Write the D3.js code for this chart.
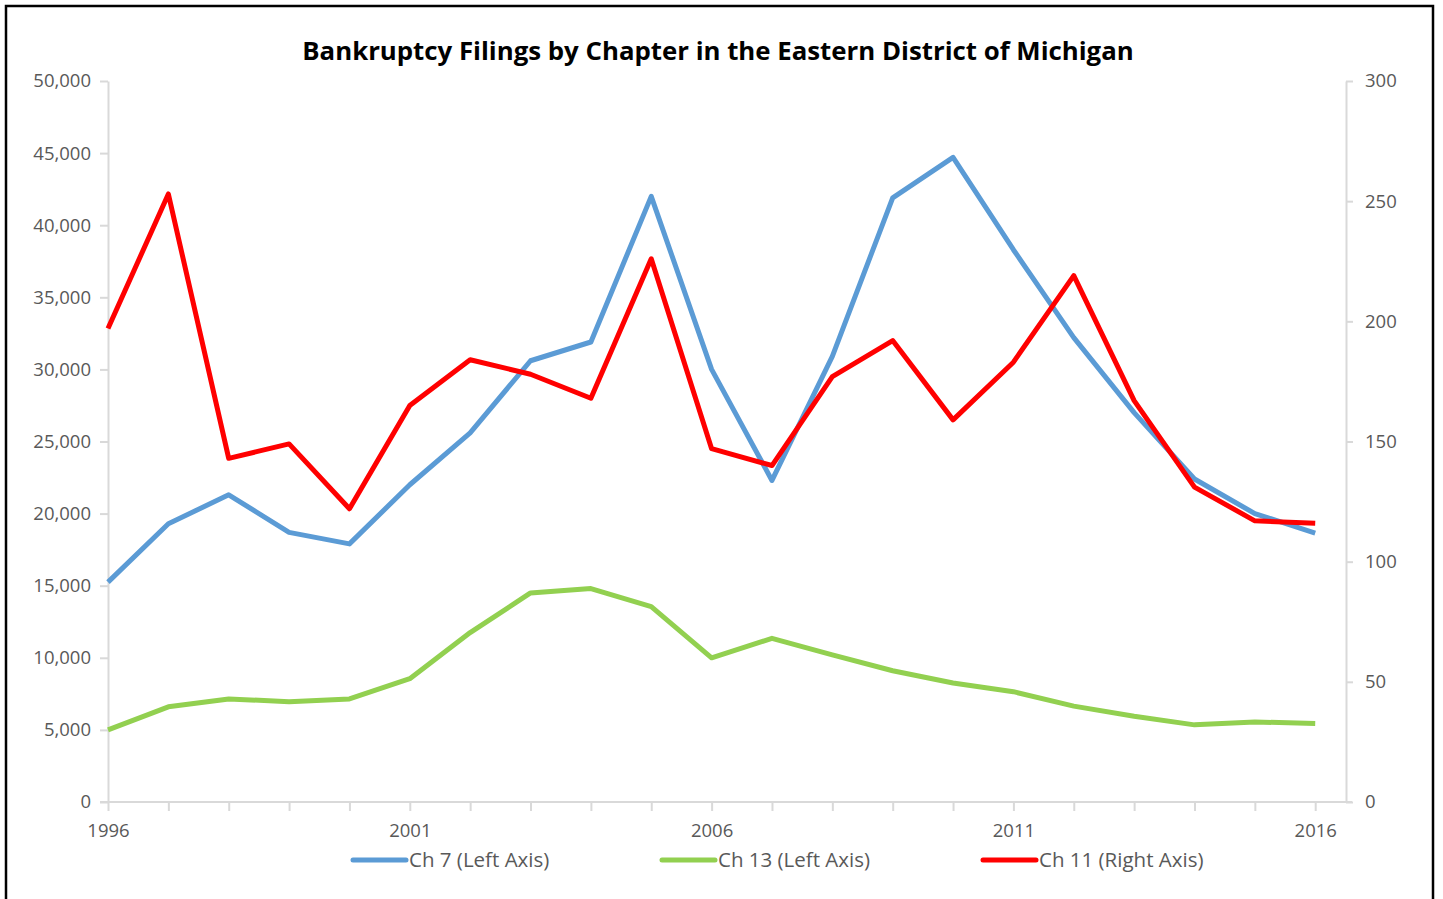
<!DOCTYPE html>
<html>
<head>
<meta charset="utf-8">
<script src="https://cdn.jsdelivr.net/npm/d3@7"></script>
<style>
  body { margin: 0; background: #fff; }
  text { font-family: "Open Sans", "Noto Sans", sans-serif; }
</style>
</head>
<body>
<div id="chart"></div>
<script>
// Years on the x axis
const years = d3.range(1996, 2017);

// Filings per year
const ch7 = [15250, 19300, 21300, 18700, 17900, 22000, 25600, 30600, 31900, 42000,
  30000, 22300, 30900, 41900, 44700, 38300, 32200, 27000, 22400, 20000, 18650];
const ch13 = [5000, 6600, 7150, 6950, 7150, 8550, 11750, 14500, 14800, 13550,
  10000, 11350, 10200, 9100, 8250, 7650, 6650, 5950, 5350, 5550, 5450];
const ch11 = [197, 253, 143, 149, 122, 165, 184, 178, 168, 226,
  147, 140, 177, 192, 159, 183, 219, 167, 131, 117, 116];

const leftTicks = d3.range(0, 50001, 5000);
const rightTicks = d3.range(0, 301, 50);
const xLabelYears = [1996, 2001, 2006, 2011, 2016];

const series = [
  { name: 'Ch 7 (Left Axis)', values: ch7, axis: 'left', color: '#5b9bd5' },
  { name: 'Ch 13 (Left Axis)', values: ch13, axis: 'left', color: '#92d050' },
  { name: 'Ch 11 (Right Axis)', values: ch11, axis: 'right', color: '#ff0000' }
];

const config = {
  width: 1443,
  height: 899,
  margin: { top: 81, right: 97, bottom: 97, left: 108 }
};

const svg = d3.select('#chart').append('svg')
  .attr('width', config.width)
  .attr('height', config.height);

// Outer frame
svg.append('rect')
  .attr('x', 6).attr('y', 6)
  .attr('width', 1427).attr('height', 900)
  .attr('fill', 'none')
  .attr('stroke', '#000')
  .attr('stroke-width', 2.5);

const plotW = config.width - config.margin.left - config.margin.right;
const plotH = config.height - config.margin.top - config.margin.bottom;

// x runs half a year past 2016 so the axis meets the right axis
const xScale = d3.scaleLinear()
  .domain([1996, 2016.51])
  .range([0, plotW]);
const yLeft = d3.scaleLinear().domain([0, 50000]).range([plotH, 0]);
const yRight = d3.scaleLinear().domain([0, 300]).range([plotH, 0]);

const g = svg.append('g')
  .attr('transform', `translate(${config.margin.left},${config.margin.top})`);

const axisColor = '#d9d9d9';
const labelColor = '#595959';

// Left axis
const yLeftAxis = d3.axisLeft(yLeft)
  .tickValues(leftTicks)
  .tickFormat(d3.format(','))
  .tickSize(8)
  .tickSizeOuter(0)
  .tickPadding(9);
const yLeftG = g.append('g').call(yLeftAxis);

// Right axis
const yRightAxis = d3.axisRight(yRight)
  .tickValues(rightTicks)
  .tickSize(7)
  .tickSizeOuter(0)
  .tickPadding(12);
const yRightG = g.append('g')
  .attr('transform', `translate(${plotW},0)`)
  .call(yRightAxis);

// X axis
const xAxis = d3.axisBottom(xScale)
  .tickValues(years)
  .tickFormat(d => xLabelYears.includes(d) ? d : '')
  .tickSize(9)
  .tickSizeOuter(0)
  .tickPadding(13);
const xG = g.append('g')
  .attr('transform', `translate(0,${plotH})`)
  .call(xAxis);

[yLeftG, yRightG, xG].forEach(a => {
  a.select('.domain').attr('stroke', axisColor).attr('stroke-width', 2);
  a.selectAll('.tick line').attr('stroke', axisColor).attr('stroke-width', 2);
  a.selectAll('.tick text')
    .attr('fill', labelColor)
    .attr('font-size', 18.5)
    .style('font-family', '"Open Sans", sans-serif');
});
xG.select('.domain').attr('d', `M${-8},0H${plotW + 6}`);

// Lines
const line = s => d3.line()
  .x((d, i) => xScale(years[i]))
  .y(d => (s.axis === 'left' ? yLeft : yRight)(d));

g.selectAll('.series')
  .data(series)
  .join('path')
  .attr('class', 'series')
  .attr('fill', 'none')
  .attr('stroke', d => d.color)
  .attr('stroke-width', 5)
  .attr('stroke-linejoin', 'round')
  .attr('d', d => line(d)(d.values));

// Title
svg.append('text')
  .attr('x', 718)
  .attr('y', 60)
  .attr('text-anchor', 'middle')
  .attr('font-size', 25.8)
  .attr('font-weight', 'bold')
  .attr('fill', '#000')
  .text('Bankruptcy Filings by Chapter in the Eastern District of Michigan');

// Legend
const legendX = [353, 662, 983];
const legend = svg.selectAll('.legend')
  .data(series)
  .join('g')
  .attr('class', 'legend')
  .attr('transform', (d, i) => `translate(${legendX[i]},860)`);
legend.append('line')
  .attr('x1', 0).attr('x2', 53)
  .attr('stroke', d => d.color)
  .attr('stroke-width', 5)
  .attr('stroke-linecap', 'round');
legend.append('text')
  .attr('x', 56)
  .attr('y', 7)
  .attr('font-size', 20.5)
  .attr('fill', labelColor)
  .text(d => d.name);
</script>
</body>
</html>
